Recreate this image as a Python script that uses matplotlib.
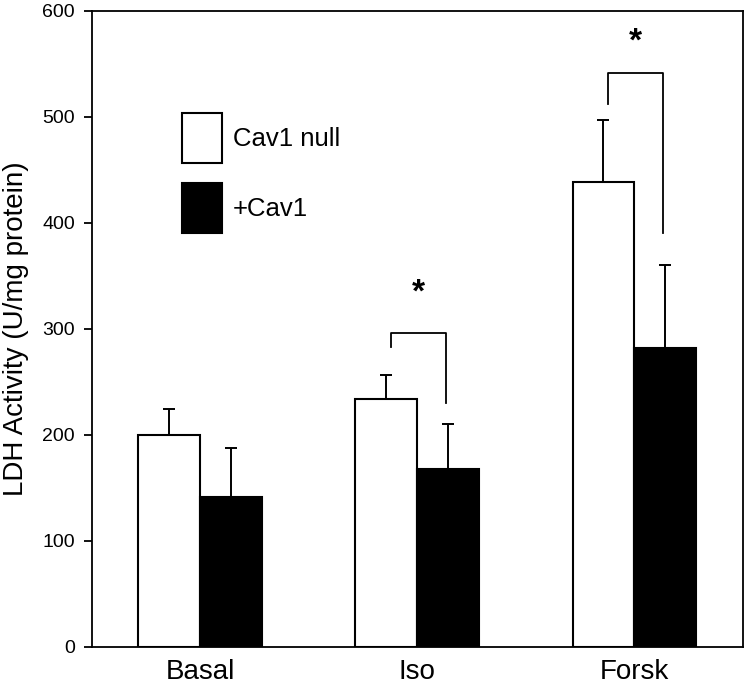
import matplotlib
matplotlib.use("Agg")
import matplotlib.pyplot as plt
from matplotlib.patches import Patch
import numpy as np

plt.rcParams['font.family'] = ['Liberation Sans', 'DejaVu Sans']

categories = ["Basal", "Iso", "Forsk"]
series_names = ["Cav1 null", "+Cav1"]
null_values = [200, 234, 438]
null_errors = [24, 22, 59]
cav1_values = [141, 168, 282]
cav1_errors = [46, 42, 78]

# significance brackets: (category index, top, left leg bottom, right leg bottom, star height)
sig_cats = [1, 2]
sig_tops = [296, 541]
sig_left_bottoms = [283, 512]
sig_right_bottoms = [230, 390]
sig_star_y = [339, 575]
sig_labels = ["*", "*"]

fig = plt.figure(figsize=(7.47, 6.91), dpi=100)
ax = fig.add_axes([0.1228, 0.0641, 0.8718, 0.9204])

x = np.arange(len(categories))
w = 0.285
ax.bar(x - w / 2, null_values, w, color="white", edgecolor="black", linewidth=1.5, zorder=2)
ax.bar(x + w / 2, cav1_values, w, color="black", edgecolor="black", linewidth=1.5, zorder=2)
ax.errorbar(x - w / 2, null_values, yerr=[np.zeros(3), null_errors], fmt="none",
            ecolor="black", elinewidth=1.4, capsize=4.5, capthick=1.4, zorder=1)
ax.errorbar(x + w / 2, cav1_values, yerr=[np.zeros(3), cav1_errors], fmt="none",
            ecolor="black", elinewidth=1.4, capsize=4.5, capthick=1.4, zorder=1)

for ci, top, lb, rb, sy, lab in zip(sig_cats, sig_tops, sig_left_bottoms,
                                    sig_right_bottoms, sig_star_y, sig_labels):
    xl = x[ci] - w / 2 + 0.02
    xr = x[ci] + w / 2 - 0.01
    ax.plot([xl, xl, xr, xr], [lb, top, top, rb], color="black", lw=1.3)
    ax.text((xl + xr) / 2, sy - 13, lab, ha="center", va="baseline",
            fontsize=24, fontweight="bold")

ax.set_xlim(-0.5, 2.5)
ax.set_ylim(0, 600)
ax.set_yticks([0, 100, 200, 300, 400, 500, 600])
ax.set_xticks(x)
ax.set_xticklabels(categories, fontsize=20)
ax.tick_params(axis="x", length=0, pad=9)
ax.tick_params(axis="y", direction="out", length=6, width=1.3, labelsize=14, pad=6)
for s in ax.spines.values():
    s.set_linewidth(1.3)
ax.set_ylabel("LDH Activity (U/mg protein)", fontsize=20)
ax.yaxis.set_label_coords(-0.097, 0.5)

handles = [Patch(facecolor="white", edgecolor="black", linewidth=1.5),
           Patch(facecolor="black", edgecolor="black", linewidth=1.5)]
ax.legend(handles, series_names, loc="upper left", bbox_to_anchor=(0.138, 0.8396),
          frameon=False, fontsize=18.5, handlelength=1.56, handleheight=2.62,
          labelspacing=0.8, handletextpad=0.45, borderpad=0, borderaxespad=0)

fig.savefig("out.png", dpi=100)
